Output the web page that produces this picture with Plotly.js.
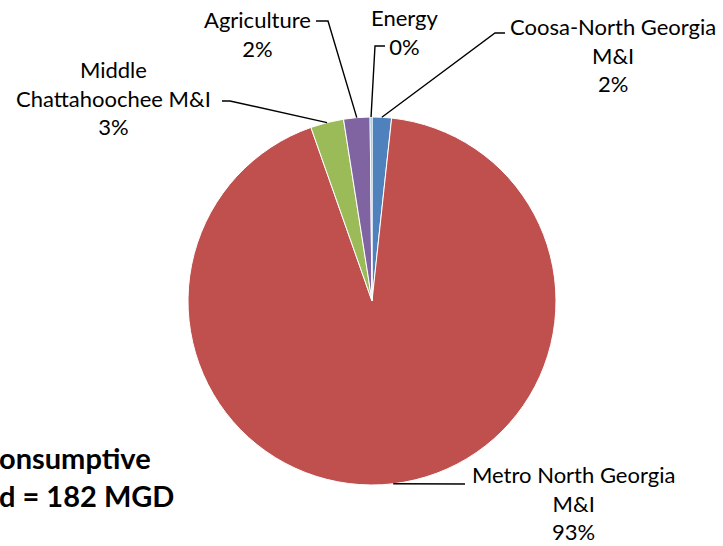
<!DOCTYPE html>
<html><head><meta charset="utf-8">
<script src="https://cdn.plot.ly/plotly-3.0.1.min.js"></script>
<style>html,body{margin:0;padding:0;background:#fff;}#chart{width:723px;height:546px;}</style>
</head><body><div id="chart"></div>
<script>
// Data (MGD, total 182)
const categories = ["Coosa-North Georgia M&I", "Metro North Georgia M&I", "Middle Chattahoochee M&I", "Agriculture", "Energy"];
const demandMGD = [3.1, 169.1, 5.3, 4.2, 0.3];
const labelText = ["Coosa-North Georgia<br>M&I", "Metro North Georgia<br>M&I", "Middle<br>Chattahoochee M&I", "Agriculture", "Energy"];
const sliceColors = ["#4F81BD", "#C0504D", "#9BBB59", "#8064A2", "#4BACC6"];
const summaryLines = ["onsumptive", "d = 182 MGD"];

const W = 723, H = 546;
const cx = 372, cy = 301, R = 184;
const total = demandMGD.reduce((a, b) => a + b, 0);
const pct = demandMGD.map(v => Math.round(100 * v / total) + "%");

// label layout (pixel positions): text center, elbow point, text-side end
const labelPos = [
  {x: 613, y: 55, ex: 495, ey: 33, tx: 505, ty: 33},
  {x: 573, y: 503, ex: 465, ey: 484, tx: 465, ty: 484},
  {x: 113, y: 98, ex: 230, ey: 101, tx: 222, ty: 101},
  {x: 257, y: 34, ex: 328, ey: 21, tx: 316, ty: 21},
  {x: 404, y: 32, ex: 375, ey: 46, tx: 385, ty: 46}
];

const px = x => x / W;
const py = y => 1 - y / H;

const annotations = [];
const shapes = [];
let cum = 0;
demandMGD.forEach((v, i) => {
  const mid = (cum + v / 2) / total * 2 * Math.PI;
  cum += v;
  const sx = cx + R * Math.sin(mid), sy = cy - R * Math.cos(mid);
  const L = labelPos[i];
  annotations.push({
    xref: 'paper', yref: 'paper', x: px(L.x), y: py(L.y),
    xanchor: 'center', yanchor: 'middle', showarrow: false,
    text: labelText[i] + "<br>" + pct[i],
    font: {family: 'Lato, "Noto Sans", sans-serif', size: 22, color: '#000'}
  });
  shapes.push({
    type: 'path', xref: 'paper', yref: 'paper',
    path: `M ${px(sx)} ${py(sy)} L ${px(L.ex)} ${py(L.ey)} L ${px(L.tx)} ${py(L.ty)}`,
    line: {color: '#000', width: 1.4}
  });
});

summaryLines.forEach((t, i) => {
  annotations.push({
    xref: 'paper', yref: 'paper', x: px(-3), y: py(457 + 38 * i),
    xanchor: 'left', yanchor: 'middle', showarrow: false, text: '<b>' + t + '</b>',
    font: {family: 'Lato, "Noto Sans", sans-serif', size: 29, color: '#000'}
  });
});

const trace = {
  type: 'pie', values: demandMGD, labels: categories,
  sort: false, direction: 'clockwise', rotation: 0,
  textinfo: 'none', showlegend: false,
  marker: {colors: sliceColors, line: {color: '#fff', width: 1}},
  domain: {x: [px(cx - R), px(cx + R)], y: [py(cy + R), py(cy - R)]}
};

Plotly.newPlot('chart', [trace], {
  width: W, height: H, margin: {l: 0, r: 0, t: 0, b: 0},
  paper_bgcolor: '#fff', showlegend: false,
  annotations: annotations, shapes: shapes
}, {displayModeBar: false, staticPlot: true});
</script></body></html>
